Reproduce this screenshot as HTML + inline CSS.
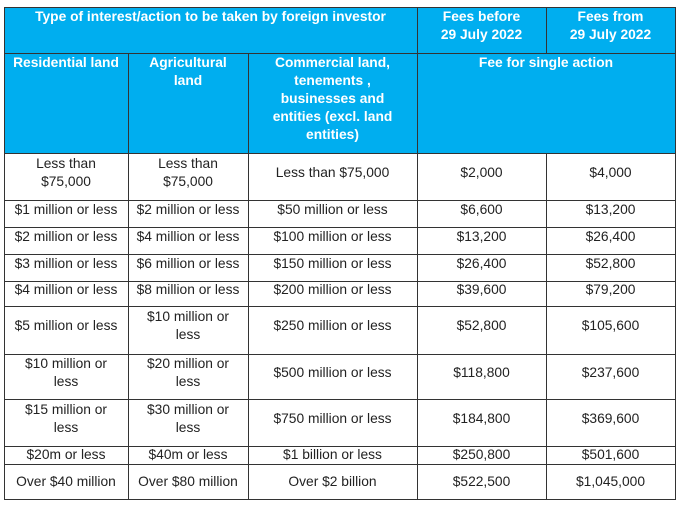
<!DOCTYPE html>
<html><head><style>
body{margin:0;width:682px;height:506px;background:#fff;position:relative;font-family:"Liberation Sans",Arial,sans-serif;overflow:hidden}
.c{position:absolute;box-sizing:border-box;display:flex;align-items:center;justify-content:center;text-align:center;font-size:13.8px;line-height:18px;color:#222;border:1px solid #333;margin:-0.5px;padding-bottom:8px;white-space:nowrap}
.h{background:#00aeef;color:#fff;font-weight:bold;align-items:flex-start;padding-top:0;padding-bottom:0}
</style></head><body>
<div class="c h" style="left:4px;top:7px;width:414px;height:47px">Type of interest/action to be taken by foreign investor</div>
<div class="c h" style="left:417px;top:7px;width:130px;height:47px">Fees before<br>29 July 2022</div>
<div class="c h" style="left:546px;top:7px;width:130px;height:47px">Fees from<br>29 July 2022</div>
<div class="c h" style="left:4px;top:53px;width:125px;height:101px">Residential land</div>
<div class="c h" style="left:128px;top:53px;width:121px;height:101px">Agricultural<br>land</div>
<div class="c h" style="left:248px;top:53px;width:170px;height:101px">Commercial land,<br>tenements ,<br>businesses and<br>entities (excl. land<br>entities)</div>
<div class="c h" style="left:417px;top:53px;width:259px;height:101px">Fee for single action</div>
<div id="rows"></div>
<script>
var ys=[153,200,227,254,281,306,354,399,446,464,499];
var xs=[4,128,248,417,546,675];
var d=[["Less than<br>$75,000","Less than<br>$75,000","Less than $75,000","$2,000","$4,000"],
["$1 million or less","$2 million or less","$50 million or less","$6,600","$13,200"],
["$2 million or less","$4 million or less","$100 million or less","$13,200","$26,400"],
["$3 million or less","$6 million or less","$150 million or less","$26,400","$52,800"],
["$4 million or less","$8 million or less","$200 million or less","$39,600","$79,200"],
["$5 million or less","$10 million or<br>less","$250 million or less","$52,800","$105,600"],
["$10 million or<br>less","$20 million or<br>less","$500 million or less","$118,800","$237,600"],
["$15 million or<br>less","$30 million or<br>less","$750 million or less","$184,800","$369,600"],
["$20m or less","$40m or less","$1 billion or less","$250,800","$501,600"],
["Over $40 million","Over $80 million","Over $2 billion","$522,500","$1,045,000"]];
var h="";
for(var r=0;r<d.length;r++)for(var c=0;c<5;c++){
var y0=ys[r],y1=ys[r+1];var st="";
if(r==8)st="align-items:flex-start;padding:0;line-height:16px;";
if(r==9)st="align-items:flex-start;padding:8px 0 0 0;";
h+='<div class="c" style="left:'+xs[c]+'px;top:'+y0+'px;width:'+(xs[c+1]-xs[c]+1)+'px;height:'+(y1-y0+1)+'px;'+st+'">'+d[r][c]+'</div>';}
document.getElementById("rows").innerHTML=h;
</script>
</body></html>
